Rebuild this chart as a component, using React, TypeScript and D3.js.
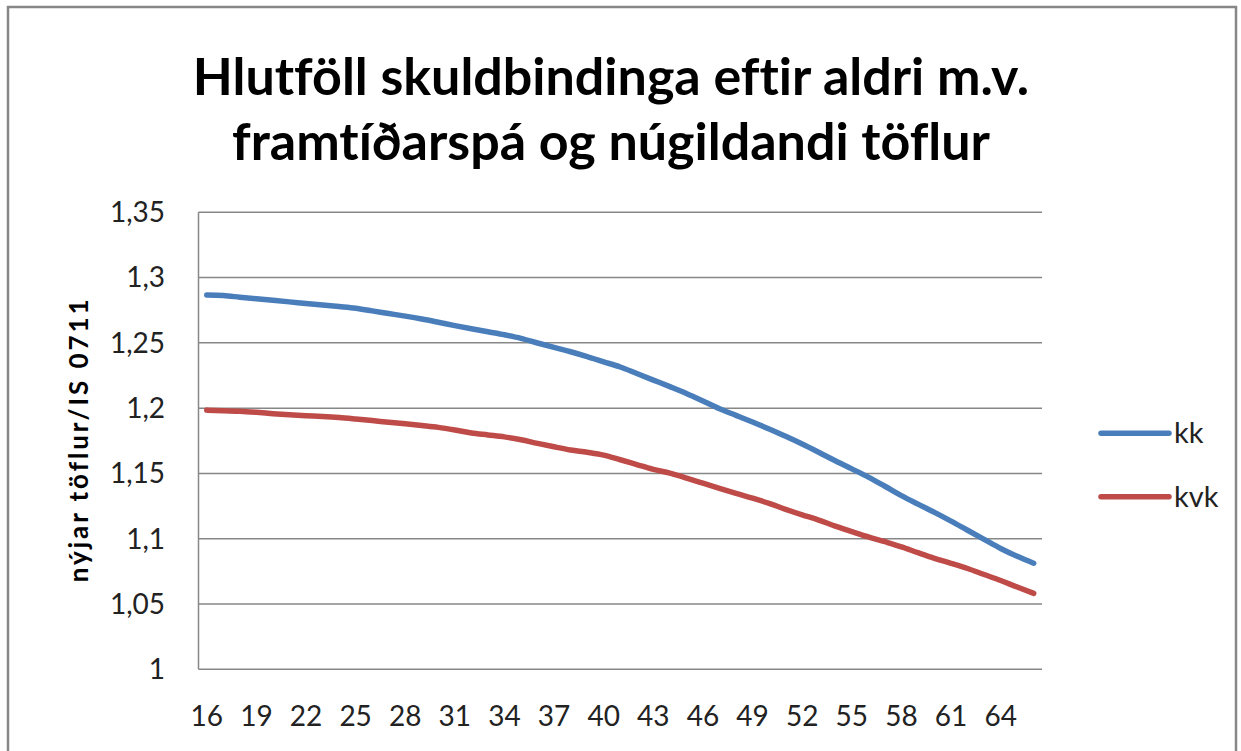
import React from "react";
import * as d3 from "d3";

const ages: number[] = d3.range(16, 67);

const kk: number[] = [
  1.2866, 1.2862, 1.285, 1.2838, 1.2826, 1.2814, 1.2802, 1.279, 1.2778, 1.2765,
  1.2745, 1.2725, 1.2705, 1.2683, 1.2658, 1.2632, 1.2608, 1.2585, 1.2562, 1.2535,
  1.2499, 1.2465, 1.2432, 1.2395, 1.2355, 1.2315, 1.2265, 1.2215, 1.2165, 1.2113,
  1.2055, 1.1995, 1.1945, 1.1894, 1.184, 1.1784, 1.1725, 1.1662, 1.1597, 1.1535,
  1.1472, 1.1402, 1.133, 1.1265, 1.1202, 1.1135, 1.1065, 1.0995, 1.0925, 1.0865,
  1.0812,
];

const kvk: number[] = [
  1.1985, 1.198, 1.1976, 1.1968, 1.1958, 1.1949, 1.1942, 1.1936, 1.1928, 1.1917,
  1.1905, 1.1892, 1.188, 1.1867, 1.1853, 1.1833, 1.181, 1.1795, 1.178, 1.1758,
  1.173, 1.1704, 1.168, 1.1662, 1.164, 1.1605, 1.1568, 1.1531, 1.1502, 1.1465,
  1.1425, 1.1386, 1.1348, 1.1311, 1.1271, 1.1225, 1.1183, 1.1143, 1.1097, 1.1055,
  1.1014, 1.0977, 1.0938, 1.0893, 1.085, 1.0812, 1.0772, 1.0726, 1.068, 1.063,
  1.0582,
];

const yTicks: number[] = [1, 1.05, 1.1, 1.15, 1.2, 1.25, 1.3, 1.35];
const xTickLabels: number[] = [16, 19, 22, 25, 28, 31, 34, 37, 40, 43, 46, 49, 52, 55, 58, 61, 64];

const seriesNames: string[] = ["kk", "kvk"];
const seriesColors: string[] = ["#4A7EBB", "#BE4B48"];
const titleLines: string[] = [
  "Hlutföll skuldbindinga eftir aldri m.v.",
  "framtíðarspá og núgildandi töflur",
];
const yAxisTitle = "nýjar töflur/IS 0711";

const W = 1241;
const H = 751;
const plot = { left: 198.5, right: 1042, top: 212.3, bottom: 669.3 };
const FONT = "Lato, 'Open Sans', sans-serif";
const noLig = { fontVariantLigatures: "none", fontFeatureSettings: "'liga' 0, 'clig' 0" } as React.CSSProperties;

const is = d3.formatLocale({
  decimal: ",",
  thousands: ".",
  grouping: [3],
  currency: ["", " kr."],
});
const fmt = is.format(".2~f");

export default function App() {
  const x = d3
    .scalePoint<number>()
    .domain(ages)
    .range([plot.left, plot.right])
    .padding(0.5);
  const y = d3.scaleLinear().domain([1, 1.35]).range([plot.bottom, plot.top]);

  const line = d3
    .line<number>()
    .x((_, i) => x(ages[i]) as number)
    .y((d) => y(d))
    .curve(d3.curveMonotoneX);

  const series = [kk, kvk];

  return (
    <svg
      width={W}
      height={H}
      style={{ position: "absolute", left: 0, top: 0, display: "block", background: "#fff" }}
    >
      <rect x={0} y={0} width={W} height={H} fill="#fff" />
      <rect
        x={8}
        y={7}
        width={1228}
        height={780}
        fill="none"
        stroke="#878787"
        strokeWidth={2.5}
      />
      {titleLines.map((t, i) => (
        <text
          key={i}
          x={611}
          y={95 + i * 65}
          textAnchor="middle"
          fontFamily={FONT}
          fontWeight={700}
          fontSize={52}
          fill="#000"
          style={noLig}
        >
          {t}
        </text>
      ))}

      {yTicks.map((v) => (
        <line
          key={"g" + v}
          x1={plot.left}
          x2={plot.right}
          y1={y(v)}
          y2={y(v)}
          stroke="#878787"
          strokeWidth={1.5}
        />
      ))}
      <line
        x1={plot.left}
        x2={plot.left}
        y1={plot.top}
        y2={plot.bottom}
        stroke="#878787"
        strokeWidth={1.5}
      />

      {yTicks.map((v) => (
        <text
          key={"t" + v}
          x={165}
          y={y(v)}
          dy="0.35em"
          textAnchor="end"
          fontFamily={FONT}
          fontSize={28}
          fill="#222"
        >
          {fmt(v)}
        </text>
      ))}

      {xTickLabels.map((a) => (
        <text
          key={"x" + a}
          x={x(a) as number}
          y={726}
          textAnchor="middle"
          fontFamily={FONT}
          fontSize={28}
          fill="#222"
        >
          {a}
        </text>
      ))}

      <text
        transform={`translate(88, ${(plot.top + plot.bottom) / 2}) rotate(-90)`}
        textAnchor="middle"
        fontFamily={FONT}
        fontWeight={700}
        fontSize={26}
        textLength={283}
        lengthAdjust="spacing"
        fill="#000"
        style={noLig}
      >
        {yAxisTitle}
      </text>

      {series.map((s, i) => (
        <path
          key={"s" + i}
          d={line(s) as string}
          fill="none"
          stroke={seriesColors[i]}
          strokeWidth={5.5}
          strokeLinecap="round"
          strokeLinejoin="round"
        />
      ))}

      {seriesNames.map((n, i) => (
        <g key={"l" + n}>
          <line
            x1={1101}
            x2={1169}
            y1={433.3 + i * 63.4}
            y2={433.3 + i * 63.4}
            stroke={seriesColors[i]}
            strokeWidth={5.5}
            strokeLinecap="round"
          />
          <text
            x={1174}
            y={433.3 + i * 63.4}
            dy="0.35em"
            fontFamily={FONT}
            fontSize={29}
            fill="#222"
          >
            {n}
          </text>
        </g>
      ))}
    </svg>
  );
}
